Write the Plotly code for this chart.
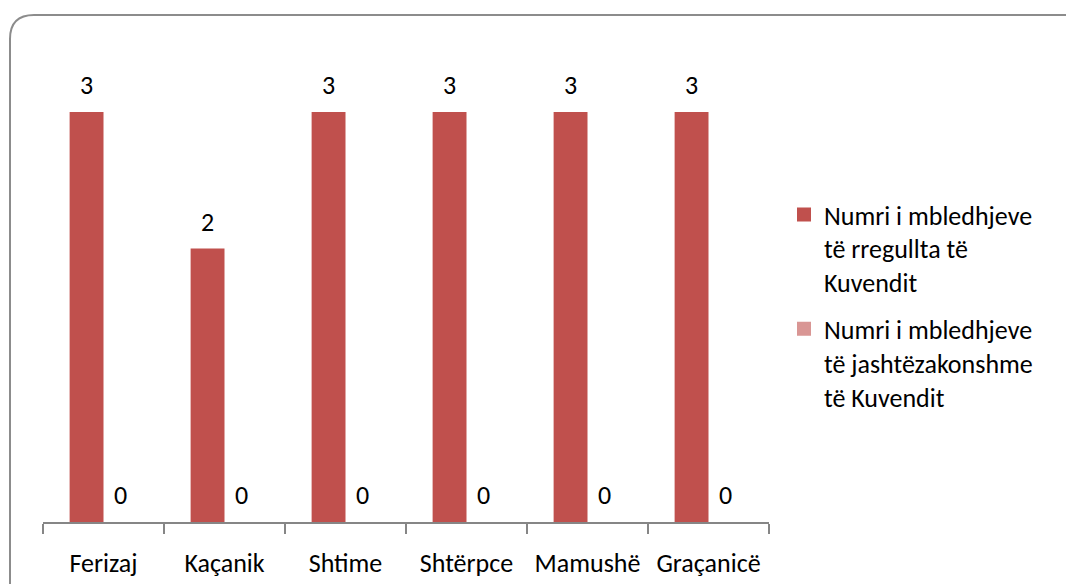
import plotly.graph_objects as go

categories = ["Ferizaj", "Kaçanik", "Shtime", "Shtërpce", "Mamushë", "Graçanicë"]
regular = [3, 2, 3, 3, 3, 3]
extraordinary = [0, 0, 0, 0, 0, 0]
series_names = ["Numri i mbledhjeve<br>të rregullta të<br>Kuvendit",
                "Numri i mbledhjeve<br>të jashtëzakonshme<br>të Kuvendit"]
colors = ["#C0504D", "#D99694"]

FONT = "Carlito, Calibri, Lato, sans-serif"
FS = 26

# page offset of the plot div (body margin)
OFF = 8
W, H = 1074, 584
# desired page coords of plot area
PL, PR, PT, PB = 43, 769, 30, 522
ML, MT = PL - OFF, PT - OFF
MR = W - (PR - OFF)
MB = H - (PB - OFF)
PW, PH = PR - PL, PB - PT

fig = go.Figure()
groups = ["s1", "s2"]
for name, vals, col, g in zip(series_names, [regular, extraordinary], colors, groups):
    fig.add_trace(go.Bar(x=categories, y=vals, name=name, showlegend=False,
                         offsetgroup=g, legendgroup=g,
                         marker=dict(color=col, line=dict(width=0))))
# legend entries (slightly larger swatches)
for name, col, g in zip(series_names, colors, groups):
    fig.add_trace(go.Bar(x=[None], y=[None], name=name, showlegend=True,
                         offsetgroup=g, legendgroup=g,
                         marker=dict(color=col, line=dict(color=col, width=2.5))))

bargap = 0.44
half = (PW / len(categories)) * (1 - bargap) / 4
annotations = []
for vals, sh in [(regular, -half), (extraordinary, half)]:
    for c, v in zip(categories, vals):
        annotations.append(dict(x=c, y=v, text=str(v), showarrow=False,
                                xshift=sh, yshift=27, yanchor="middle",
                                font=dict(family=FONT, size=FS, color="#000")))

def px_x(x):
    return (x - PL) / PW

def px_y(y):
    return (PB - y) / PH

x0, y0, x1, y1, r = 10, 15, 1098, 610, 24
path = (f"M {px_x(x0)},{px_y(y0 + r)} Q {px_x(x0)},{px_y(y0)} {px_x(x0 + r)},{px_y(y0)} "
        f"L {px_x(x1 - r)},{px_y(y0)} Q {px_x(x1)},{px_y(y0)} {px_x(x1)},{px_y(y0 + r)} "
        f"L {px_x(x1)},{px_y(y1)} L {px_x(x0)},{px_y(y1)} Z")

fig.update_layout(
    width=W, height=H,
    margin=dict(l=ML, r=MR, t=MT, b=MB, pad=0),
    paper_bgcolor="white", plot_bgcolor="white",
    barmode="group", bargap=bargap, bargroupgap=0,
    font=dict(family=FONT, size=FS, color="#000"),
    showlegend=True,
    legend=dict(x=px_x(784), y=px_y(191), xanchor="left", yanchor="top",
                valign="top", tracegroupgap=10, itemsizing="constant",
                font=dict(family=FONT, size=FS, color="#000"),
                bgcolor="rgba(0,0,0,0)"),
    annotations=annotations,
    shapes=[dict(type="path", xref="paper", yref="paper", path=path,
                 line=dict(color="#8C8C8C", width=2), fillcolor="rgba(0,0,0,0)",
                 layer="below")],
    xaxis=dict(type="category", showline=True, linecolor="#868686", linewidth=1.5,
               ticks="outside", tickson="boundaries", ticklen=10, tickcolor="#868686",
               tickwidth=1.5, showgrid=False, zeroline=False, ticklabelstandoff=17,
               tickfont=dict(family=FONT, size=FS, color="#000")),
    yaxis=dict(range=[0, (PB - PT) / 136.7], visible=False, showgrid=False, zeroline=False),
)

fig.write_html("out.html")
